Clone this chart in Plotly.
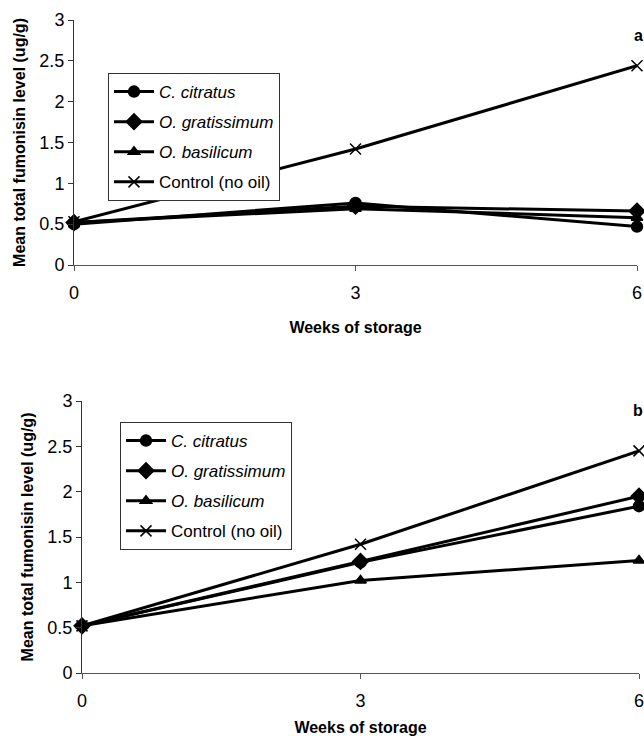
import plotly.graph_objects as go

weeks = [0, 3, 6]
series_names = ["<i>C. citratus</i>", "<i>O. gratissimum</i>", "<i>O. basilicum</i>", "Control (no oil)"]
symbols = ["circle", "diamond", "triangle-up", "x-thin"]
sizes = [11, 12, 10, 11]

# Panel a
a_citratus = [0.50, 0.76, 0.47]
a_gratissimum = [0.52, 0.72, 0.66]
a_basilicum = [0.52, 0.69, 0.58]
a_control = [0.53, 1.42, 2.44]

# Panel b
b_citratus = [0.52, 1.22, 1.84]
b_gratissimum = [0.52, 1.23, 1.95]
b_basilicum = [0.52, 1.02, 1.24]
b_control = [0.52, 1.42, 2.45]

y_ticks = [0, 0.5, 1, 1.5, 2, 2.5, 3]
y_ticktext = ["0", "0.5", "1", "1.5", "2", "2.5", "3"]
x_ticks = [0, 3, 6]

FONT = "Liberation Sans Narrow, Liberation Sans, Arial, sans-serif"
BOLD = "Liberation Sans, Arial, sans-serif"

W, H = 644, 736

fig = go.Figure()

panels = [
    ("x", "y", "legend", "a", [a_citratus, a_gratissimum, a_basilicum, a_control]),
    ("x2", "y2", "legend2", "b", [b_citratus, b_gratissimum, b_basilicum, b_control]),
]
for xa, ya, lg, tag, data in panels:
    for i, (name, sym, sz, vals) in enumerate(zip(series_names, symbols, sizes, data)):
        fig.add_trace(go.Scatter(
            x=weeks, y=vals, name=name, mode="lines+markers",
            xaxis=xa, yaxis=ya, legend=lg, legendgroup=f"{tag}{i}",
            cliponaxis=False,
            line=dict(color="black", width=3),
            marker=dict(symbol=sym, size=sz, color="black",
                        line=dict(color="black", width=1.5)),
        ))


def x_axis(standoff):
    return dict(
        range=[0, 6], tickvals=x_ticks, showgrid=False, zeroline=False,
        showline=True, linecolor="#555555", linewidth=1, automargin=False,
        ticks="outside", ticklen=5, tickcolor="#555555",
        tickfont=dict(family=FONT, size=18, color="black"),
        ticklabelstandoff=6, ticklabeloverflow="allow",
        title=dict(text="<b>Weeks of storage</b>", font=dict(family=BOLD, size=16, color="black"),
                   standoff=standoff),
    )


axis_common_y = dict(
    range=[0, 3], tickvals=y_ticks, ticktext=y_ticktext, showgrid=False, zeroline=False,
    showline=True, linecolor="#333333", linewidth=1, automargin=False,
    ticks="outside", ticklen=5, tickcolor="#333333",
    tickfont=dict(family=FONT, size=18, color="black"),
    title=dict(text="<b>Mean total fumonisin level (ug/g)</b>", font=dict(family=BOLD, size=16, color="black"),
               standoff=9),
)

legend_common = dict(
    bgcolor="white", bordercolor="#333333", borderwidth=1,
    font=dict(family=FONT, size=17, color="black"),
    xanchor="left", yanchor="top", itemwidth=40,
    traceorder="grouped", tracegroupgap=5,
)

fig.update_layout(
    template="none",
    width=W, height=H,
    margin=dict(l=0, r=0, t=0, b=0, autoexpand=False),
    paper_bgcolor="white", plot_bgcolor="white",
    showlegend=True,
    xaxis=dict(domain=[74/W, 637/W], anchor="y", **x_axis(20)),
    yaxis=dict(domain=[1 - 265/H, 1 - 20/H], anchor="x", **axis_common_y),
    xaxis2=dict(domain=[82/W, 639/W], anchor="y2", **x_axis(12)),
    yaxis2=dict(domain=[1 - 673/H, 1 - 401/H], anchor="x2", **axis_common_y),
    legend=dict(x=108/W, y=1 - 73/H, **legend_common),
    legend2=dict(x=120/W, y=1 - 422/H, **legend_common),
    annotations=[
        dict(text="<b>a</b>", x=638/W, y=1 - 25/H, xref="paper", yref="paper",
             xanchor="center", showarrow=False, font=dict(family=BOLD, size=16, color="black")),
        dict(text="<b>b</b>", x=638/W, y=1 - 410/H, xref="paper", yref="paper",
             xanchor="center", showarrow=False, font=dict(family=BOLD, size=16, color="black")),
    ],
)

fig.write_html(
    "out.html",
    config={"displayModeBar": False},
    post_script="document.body.style.margin='0px'; document.body.style.overflow='hidden';",
)
